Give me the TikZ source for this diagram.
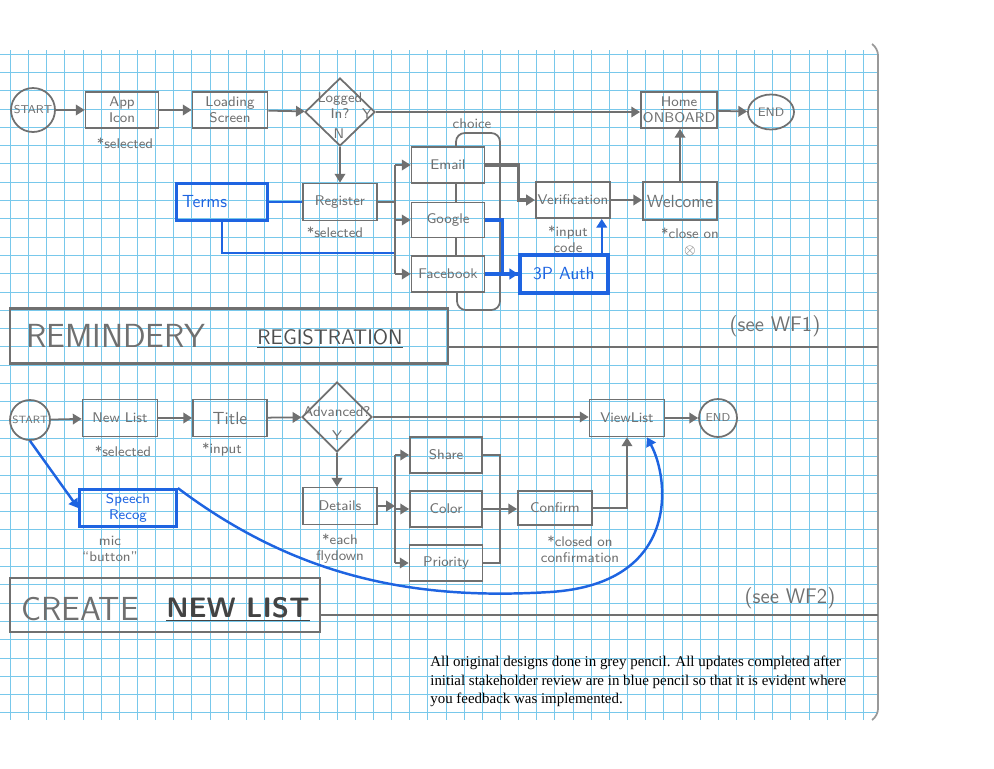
\documentclass[tikz,border=0pt]{standalone}
\usepackage{fontspec}
\setmainfont{Liberation Serif}
\usepackage{tikz}
\usetikzlibrary{shapes.geometric, arrows.meta}

\definecolor{pencil}{RGB}{112,112,112}
\definecolor{bluepen}{RGB}{30,100,225}
\definecolor{gridblue}{RGB}{120,200,235}

\begin{document}
\begin{tikzpicture}[x = 0.02cm, y = -0.02cm,
    pen/.style = {draw=pencil, line width=1pt},
    blu/.style = {draw=bluepen, line width=1.4pt},
    arr/.style = {-{Triangle[width=6pt,length=5pt]}},
    box/.style = {pen, rectangle, minimum width=1.46cm, minimum height=0.72cm, inner sep=1pt,
                  align=center, text=pencil, font=\sffamily\fontsize{8}{9}\selectfont},
    bluebox/.style = {box, draw=bluepen, line width=2pt, text=bluepen},
    note/.style = {align=left, text=pencil, inner sep=0pt, font=\sffamily\fontsize{8}{9}\selectfont},
    bigtext/.style = {text=pencil, inner sep=0pt, font=\sffamily\fontsize{19}{19}\selectfont}]
        \useasboundingbox (0,0) rectangle (994,768);
        % grid paper
        \foreach \i in {0,...,47}
          \draw[gridblue, line width=0.6pt] ({round(10+18.15*\i)+0.5},50) -- ({round(10+18.15*\i)+0.5},720);
        \foreach \j in {2,...,38}
          \draw[gridblue, line width=0.6pt] (0,{round(17+18.3*\j)+0.5}) -- (878,{round(17+18.3*\j)+0.5});
        \draw[black!40, line width=1pt, rounded corners=4pt] (872,44) -- (878,48) -- (878,716) -- (872,720);

        % registration flow
        \node[pen, circle, minimum size=0.88cm, inner sep=0pt, text=pencil, font=\sffamily\fontsize{6.5}{7}\selectfont] (startA) at (33,110) {START};
        \node[box] (appicon) at (122,110) {App\\Icon};
        \node[box, minimum width=1.5cm] (loading) at (230,110) {Loading\\Screen};
        \node[pen, diamond, minimum width=1.4cm, minimum height=1.36cm, inner sep=0pt] (logged) at (340,112) {};
        \node[note, align=center] (loggedtxt) at (340,106) {Logged\\In?};
        \node[note] (loggedY) at (367,114) {Y};
        \node[note] (loggedN) at (339,134) {N};
        \node[box] (home) at (679,110) {\underline{Home}\\ONBOARD};
        \node[pen, ellipse, minimum width=0.92cm, minimum height=0.7cm, inner sep=0pt, text=pencil, font=\sffamily\fontsize{7}{8}\selectfont] (endA) at (771,112) {END};
        \node[box, minimum width=1.48cm, minimum height=0.74cm] (register) at (340,202) {Register};
        \node[bluebox, minimum width=1.82cm, minimum height=0.74cm, font=\sffamily\fontsize{10}{11}\selectfont, text width=1.6cm, align=left] (terms) at (222,202) {Terms};
        \node[box] (email) at (448,165) {Email};
        \node[box, minimum height=0.7cm] (google) at (448,220) {Google};
        \node[box] (facebook) at (448,274) {Facebook};
        \node[box] (verif) at (573,200) {Verification};
        \node[bluebox, minimum width=1.76cm, minimum height=0.76cm, font=\sffamily\fontsize{10}{11}\selectfont] (auth) at (564,274) {3P Auth};
        \node[box, minimum width=1.48cm, minimum height=0.76cm, font=\sffamily\fontsize{10}{11}\selectfont] (welcome) at (680,201) {Welcome};

        \node[note] (selA) at (125,143) {*selected};
        \node[note] (selB) at (335,232) {*selected};
        \node[note] (choice) at (472,124) {choice};
        \node[note, align=center] (code) at (568,239) {*input\\code};
        \node[note, align=center] (closeon) at (690,242) {*close on\\$\otimes$};

        \coordinate (busA) at (395,253);
        \coordinate (chtop) at (500,133);
        \coordinate (chbot) at (500,310);
        \draw[pen, arr] (startA) -- (appicon);
        \draw[pen, arr] (appicon) -- (loading);
        \draw[pen, arr] (loading) -- (logged);
        \draw[pen, arr] (logged.east) -- (logged.east -| home.west);
        \draw[pen, arr] (home) -- (endA);
        \draw[pen, arr] (logged.south) -- (logged.south |- register.north);
        \draw[blu] (terms) -- (register);
        \draw[blu] (terms.south) |- (busA);
        \draw[pen] (register.east) -- (register.east -| busA);
        \draw[pen] (email.west -| busA) -- (facebook.west -| busA);
        \foreach \b in {email, google, facebook}
          \draw[pen, arr] (\b.west -| busA) -- (\b.west);
        \draw[pen, rounded corners=5pt] ([xshift=0.16cm]email.north) |- (chtop) -- (chbot) -| ([xshift=0.18cm]facebook.south);
        \draw[pen] ([xshift=0.16cm]email.south) -- ([xshift=0.16cm]google.north);
        \draw[pen] ([xshift=0.16cm]google.south) -- ([xshift=0.16cm]facebook.north);
        \draw[pen, line width=1.8pt, arr] (email.east) -- ++(33,0) |- (verif.west);
        \draw[blu, line width=2pt] (google.east) -- ++(17,0) |- (auth.west);
        \draw[blu, line width=2.4pt, arr] (facebook.east) -- (auth.west);
        \draw[blu, arr] ([xshift=-0.16cm]auth.north east) -- ([xshift=-0.16cm]auth.north east |- verif.south);
        \draw[pen, arr] (verif.east) -- (verif.east -| welcome.west);
        \draw[pen, arr] (welcome.north) -- (welcome.north |- home.south);

        \node[pen, line width=1.3pt, minimum width=8.76cm, minimum height=1.1cm] (regbox) at (229,336) {};
        \node[bigtext] (reminder) at (116,336) {REMINDERY};
        \node[text=pencil!70!black, inner sep=0pt, font=\sffamily\fontsize{12}{12}\selectfont] (regtitle) at (330,339) {\underline{REGISTRATION}};
        \node[text=pencil, font=\sffamily\fontsize{12}{12}\selectfont] (wf1) at (775,326) {(see WF1)};
        \coordinate (wfA) at (878,347);
        \draw[pen, line width=1.3pt] (regbox.east |- wfA) -- (wfA);

        % new list flow
        \node[pen, circle, minimum size=0.8cm, inner sep=0pt, text=pencil, font=\sffamily\fontsize{6}{7}\selectfont] (startB) at (30,420) {START};
        \node[box, minimum width=1.5cm, minimum height=0.74cm] (newlist) at (120,418) {New List};
        \node[box, minimum width=1.48cm, minimum height=0.74cm, font=\sffamily\fontsize{10}{11}\selectfont] (title) at (230,418) {Title};
        \node[pen, diamond, minimum width=1.4cm, minimum height=1.4cm, inner sep=0pt] (adv) at (337,417) {};
        \node[note] (advtxt) at (337,412) {Advanced?};
        \node[note] (advY) at (337,436) {Y};
        \node[box, minimum width=1.5cm, minimum height=0.74cm] (viewlist) at (627,418) {ViewList};
        \node[pen, circle, minimum size=0.76cm, inner sep=0pt, text=pencil, font=\sffamily\fontsize{6.5}{7}\selectfont] (endB) at (718,418) {END};
        \node[box, minimum width=1.48cm, minimum height=0.74cm] (details) at (340,506) {Details};
        \node[box, minimum width=1.44cm] (share) at (446,455) {Share};
        \node[box, minimum width=1.44cm] (color) at (446,509) {Color};
        \node[box, minimum width=1.46cm] (priority) at (446,563) {Priority};
        \node[box, minimum width=1.48cm, minimum height=0.68cm] (confirm) at (555,508) {Confirm};
        \node[bluebox, minimum width=1.94cm, minimum height=0.74cm, line width=1.6pt] (speech) at (128,508) {Speech\\Recog};

        \node[note] (selC) at (123,451) {*selected};
        \node[note] (inputC) at (222,450) {*input};
        \node[note, align=center] (each) at (340,549) {*each\\flydown};
        \node[note, align=center] (mic) at (110,549) {mic\\``button''};
        \node[note, align=center] (closed) at (580,549) {*closed on\\confirmation};

        \coordinate (busB) at (395,509);
        \coordinate (busC) at (500,509);
        \draw[pen, arr] (startB) -- (newlist);
        \draw[pen, arr] (newlist) -- (title);
        \draw[pen, arr] (title) -- (adv);
        \draw[pen, arr] (adv.east) -- (adv.east -| viewlist.west);
        \draw[pen, arr] (viewlist) -- (endB);
        \draw[pen, arr] (adv.south) -- (adv.south |- details.north);
        \draw[pen, arr] (details.east) -- (details.east -| busB);
        \draw[pen] (share.west -| busB) -- (priority.west -| busB);
        \foreach \b in {share, color, priority}
          \draw[pen, arr] (\b.west -| busB) -- (\b.west);
        \draw[pen] (share.east) -| (busC) |- (priority.east);
        \draw[pen] (color.east) -- (busC);
        \draw[pen, arr] (busC) -- (busC -| confirm.west);
        \draw[pen, arr] (confirm.east) -| (viewlist.south);
        \draw[blu, arr] (startB.south) -- (speech.west);
        \draw[blu, arr] (speech.north east) .. controls (300,580) and (420,600) .. (550,592)
          .. controls (680,584) and (670,480) .. ([xshift=0.4cm]viewlist.south);

        \node[pen, line width=1.3pt, minimum width=6.2cm, minimum height=1.08cm] (newbox) at (165,605) {};
        \node[bigtext] (create) at (80,609) {CREATE};
        \node[text=pencil!60!black, inner sep=0pt, font=\sffamily\bfseries\fontsize{16}{16}\selectfont] (newtitle) at (238,609) {\underline{NEW LIST}};
        \node[text=pencil, font=\sffamily\fontsize{12}{12}\selectfont] (wf2) at (790,598) {(see WF2)};
        \coordinate (wfB) at (878,615);
        \draw[pen, line width=1.3pt] (newbox.east |- wfB) -- (wfB);

        \node[anchor=north west, align=left, inner sep=0pt, font=\fontsize{8.5}{10.5}\selectfont] (foot) at (430,656)
          {All original designs done in grey pencil. All updates completed after\\
           initial stakeholder review are in blue pencil so that it is evident where\\
           you feedback was implemented.};
      \end{tikzpicture}
\end{document}
